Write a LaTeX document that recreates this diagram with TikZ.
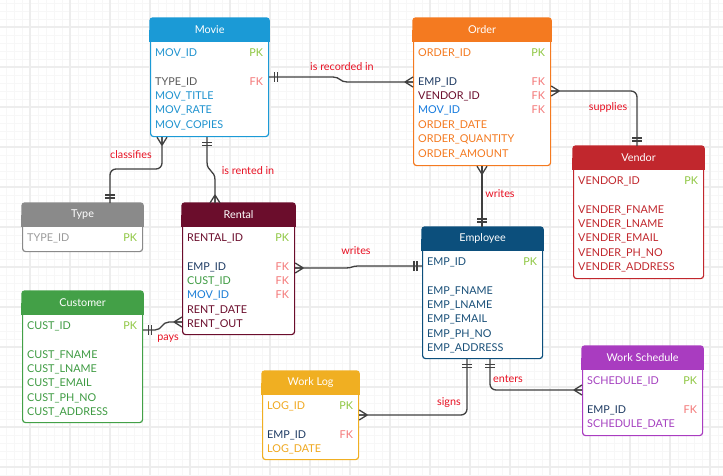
\documentclass[tikz,border=0pt]{standalone}
\usepackage{fontspec}
\setmainfont{Lato}
\definecolor{conncol}{HTML}{404040}
\definecolor{pkcol}{HTML}{8DC63F}
\definecolor{fkcol}{HTML}{F47676}
\definecolor{relcol}{HTML}{E81123}
\definecolor{navy}{HTML}{1E3B63}
\definecolor{moviecol}{HTML}{1B9AD6}
\definecolor{movietxt}{HTML}{1F93CF}
\definecolor{ordercol}{HTML}{F47A20}
\definecolor{vendorcol}{HTML}{C1272D}
\definecolor{typecol}{HTML}{8A8A8A}
\definecolor{typetxt}{HTML}{9A9A9A}
\definecolor{rentalcol}{HTML}{6B0D2C}
\definecolor{custcol}{HTML}{43A047}
\definecolor{custtxt}{HTML}{3E9B42}
\definecolor{empcol}{HTML}{0C4F7C}
\definecolor{emptxt}{HTML}{184F78}
\definecolor{logcol}{HTML}{F0AF22}
\definecolor{logtxt}{HTML}{F0A81E}
\definecolor{schedcol}{HTML}{A93CC0}
\definecolor{schedtxt}{HTML}{A540C0}
\definecolor{minorgrid}{HTML}{F7F7F7}
\definecolor{majorgrid}{HTML}{EDEDED}
\tikzset{
  entbox/.style={line width=1.2pt, rounded corners=3pt, anchor=north west, inner sep=0pt},
  enttitle/.style={text=white, font=\fontsize{10.8}{12}\selectfont, inner sep=0pt},
  attr/.style={anchor=west, inner sep=0pt, text height=7.6pt, text depth=0pt, font=\fontsize{10.8}{12}\selectfont},
  conn/.style={draw=conncol, line width=1.3pt},
  rel/.style={text=relcol, font=\fontsize{10.8}{12}\selectfont, inner sep=0pt},
  crow/.pic={\draw[conn] (8,0) -- (0,-5) (8,0) -- (0,5) (8,0) -- (0,0);},
  bars/.pic={\draw[conn] (5,-5) -- (5,5) (8,-5) -- (8,5);}
}
\newcommand\entity[7]{%
  \node[entbox, draw=#6, fill=white, minimum width=#4pt, minimum height=#5pt] (#1) at (#2,#3) {};
  \fill[#6, rounded corners=3pt] ([xshift=-0.6pt,yshift=0.6pt]#1.north west) rectangle ([xshift=0.6pt,yshift=-23.5pt]#1.north east);
  \fill[#6] ([xshift=-0.6pt,yshift=-12pt]#1.north west) rectangle ([xshift=0.6pt,yshift=-23.5pt]#1.north east);
  \node[enttitle] at ([yshift=-11.75pt]#1.north) {#7};
}
\newcommand\attr[4]{\node[attr, text=#3] at ([xshift=5pt, yshift={-(34.5+14.4*#2)*1pt}]#1.north west) {#4};}
\newcommand\pk[2]{\node[attr, anchor=east, text=pkcol] at ([xshift=-6pt, yshift={-(34.5+14.4*#2)*1pt}]#1.north east) {PK};}
\newcommand\fk[2]{\node[attr, anchor=east, text=fkcol] at ([xshift=-6pt, yshift={-(34.5+14.4*#2)*1pt}]#1.north east) {FK};}
\begin{document}
\begin{tikzpicture}[x=1pt,y=-1pt]
\useasboundingbox (0,0) rectangle (723,475);
\fill[white] (0,0) rectangle (723,475);
% grid
\foreach \x in {6,14,...,720} \draw[minorgrid, line width=0.6pt] (\x,0) -- (\x,475);
\foreach \y in {3,11,...,475} \draw[minorgrid, line width=0.6pt] (0,\y) -- (723,\y);
\foreach \x in {30,70,...,720} \draw[majorgrid, line width=1.2pt] (\x,0) -- (\x,475);
\foreach \y in {27,67,...,475} \draw[majorgrid, line width=1.2pt] (0,\y) -- (723,\y);

% entities
\entity{movie}{150}{18}{118}{118}{moviecol}{Movie}
\attr{movie}{0}{movietxt}{MOV\_ID}\pk{movie}{0}
\attr{movie}{2}{black!65}{TYPE\_ID}\fk{movie}{2}
\attr{movie}{3}{movietxt}{MOV\_TITLE}
\attr{movie}{4}{movietxt}{MOV\_RATE}
\attr{movie}{5}{movietxt}{MOV\_COPIES}

\entity{order}{413}{18}{137}{147}{ordercol}{Order}
\attr{order}{0}{ordercol}{ORDER\_ID}\pk{order}{0}
\attr{order}{2}{navy}{EMP\_ID}\fk{order}{2}
\attr{order}{3}{rentalcol}{VENDOR\_ID}\fk{order}{3}
\attr{order}{4}{moviecol!80!blue}{MOV\_ID}\fk{order}{4}
\attr{order}{5}{ordercol}{ORDER\_DATE}
\attr{order}{6}{ordercol}{ORDER\_QUANTITY}
\attr{order}{7}{ordercol}{ORDER\_AMOUNT}

\entity{vendor}{573}{146}{130}{132}{vendorcol}{Vendor}
\attr{vendor}{0}{vendorcol}{VENDOR\_ID}\pk{vendor}{0}
\attr{vendor}{2}{vendorcol}{VENDER\_FNAME}
\attr{vendor}{3}{vendorcol}{VENDER\_LNAME}
\attr{vendor}{4}{vendorcol}{VENDER\_EMAIL}
\attr{vendor}{5}{vendorcol}{VENDER\_PH\_NO}
\attr{vendor}{6}{vendorcol}{VENDER\_ADDRESS}

\entity{type}{22}{203}{120}{48}{typecol}{Type}
\attr{type}{0}{typetxt}{TYPE\_ID}\pk{type}{0}

\entity{rental}{182}{203}{112}{131}{rentalcol}{Rental}
\attr{rental}{0}{rentalcol}{RENTAL\_ID}\pk{rental}{0}
\attr{rental}{2}{navy}{EMP\_ID}\fk{rental}{2}
\attr{rental}{3}{custtxt}{CUST\_ID}\fk{rental}{3}
\attr{rental}{4}{movietxt!85!blue}{MOV\_ID}\fk{rental}{4}
\attr{rental}{5}{rentalcol}{RENT\_DATE}
\attr{rental}{6}{rentalcol}{RENT\_OUT}

\entity{customer}{22}{291}{120}{131}{custcol}{Customer}
\attr{customer}{0}{custtxt}{CUST\_ID}\pk{customer}{0}
\attr{customer}{2}{custtxt}{CUST\_FNAME}
\attr{customer}{3}{custtxt}{CUST\_LNAME}
\attr{customer}{4}{custtxt}{CUST\_EMAIL}
\attr{customer}{5}{custtxt}{CUST\_PH\_NO}
\attr{customer}{6}{custtxt}{CUST\_ADDRESS}

\entity{employee}{422}{227}{120}{131}{empcol}{Employee}
\attr{employee}{0}{emptxt}{EMP\_ID}\pk{employee}{0}
\attr{employee}{2}{emptxt}{EMP\_FNAME}
\attr{employee}{3}{emptxt}{EMP\_LNAME}
\attr{employee}{4}{emptxt}{EMP\_EMAIL}
\attr{employee}{5}{emptxt}{EMP\_PH\_NO}
\attr{employee}{6}{emptxt}{EMP\_ADDRESS}

\entity{worklog}{262}{371}{96}{88}{logcol}{Work Log}
\attr{worklog}{0}{logtxt}{LOG\_ID}\pk{worklog}{0}
\attr{worklog}{2}{navy}{EMP\_ID}\fk{worklog}{2}
\attr{worklog}{3}{logtxt}{LOG\_DATE}

\entity{worksched}{582}{346}{120}{89}{schedcol}{Work Schedule}
\attr{worksched}{0}{schedtxt}{SCHEDULE\_ID}\pk{worksched}{0}
\attr{worksched}{2}{navy}{EMP\_ID}\fk{worksched}{2}
\attr{worksched}{3}{schedtxt}{SCHEDULE\_DATE}

% connectors
% Movie - Order
\draw[conn] (movie.east |- 0,77) -- (333,77) .. controls (340,77) and (340,82) .. (347,82) -- (order.west |- 0,82);
\pic at (movie.east |- 0,77) {bars};
\pic[rotate=180] at (order.west |- 0,82) {crow};
\node[rel] (l1) at (342,67) {is recorded in};
% Order - Vendor
\draw[conn, rounded corners=6pt] (order.east |- 0,91) -| (vendor.north -| 637,0);
\pic at (order.east |- 0,91) {crow};
\pic[rotate=90] at (vendor.north -| 637,0) {bars};
\node[rel] (l2) at (608,107) {supplies};
% Order - Employee
\draw[conn] (order.south -| 482,0) -- (employee.north -| 482,0);
\pic[rotate=-90] at (order.south -| 482,0) {crow};
\pic[rotate=90] at (employee.north -| 482,0) {bars};
\node[rel] (l3) at (500,194) {writes};
% Movie - Type
\draw[conn, rounded corners=6pt] (movie.south -| 162,0) |- (110,169) -- (type.north -| 110,0);
\pic[rotate=-90] at (movie.south -| 162,0) {crow};
\pic[rotate=90] at (type.north -| 110,0) {bars};
\node[rel] (l4) at (131,155) {classifies};
% Movie - Rental
\draw[conn] (movie.south -| 207,0) -- (207,162) .. controls (207,172) and (215,170) .. (215,180) -- (rental.north -| 215,0);
\pic[rotate=-90] at (movie.south -| 207,0) {bars};
\pic[rotate=90] at (rental.north -| 215,0) {crow};
\node[rel] (l5) at (248,171) {is rented in};
% Rental - Employee
\draw[conn] (rental.east |- 0,268) -- (346,268) .. controls (352,268) and (352,266) .. (358,266) -- (employee.west |- 0,266);
\pic at (rental.east |- 0,268) {crow};
\pic[rotate=180] at (employee.west |- 0,266) {bars};
\node[rel] (l6) at (356,251) {writes};
% Customer - Rental
\draw[conn] (customer.east |- 0,330) -- (155,330) .. controls (162,330) and (162,322) .. (169,322) -- (rental.west |- 0,322);
\pic at (customer.east |- 0,330) {bars};
\pic[rotate=180] at (rental.west |- 0,322) {crow};
\node[rel] (l7) at (168,339) {pays};
% Employee - Work Log
\draw[conn, rounded corners=6pt] (employee.south -| 467,0) |- (worklog.east |- 0,415);
\pic[rotate=-90] at (employee.south -| 467,0) {bars};
\pic at (worklog.east |- 0,415) {crow};
\node[rel] (l8) at (449,403) {signs};
% Employee - Work Schedule
\draw[conn, rounded corners=6pt] (employee.south -| 490,0) |- (worksched.west |- 0,390);
\pic[rotate=-90] at (employee.south -| 490,0) {bars};
\pic[rotate=180] at (worksched.west |- 0,390) {crow};
\node[rel] (l9) at (508,379) {enters};
\end{tikzpicture}
\end{document}
